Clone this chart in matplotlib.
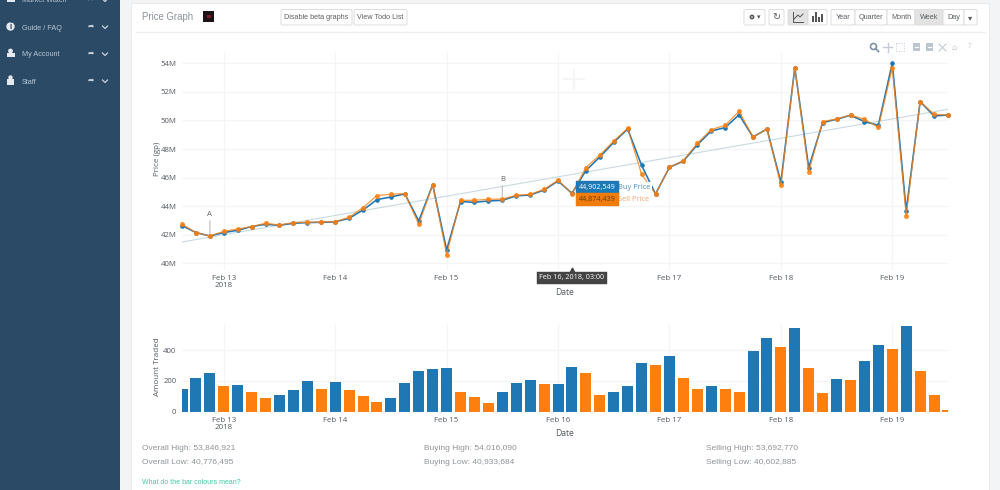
import matplotlib
matplotlib.use("Agg")
import matplotlib.pyplot as plt
from matplotlib.patches import Rectangle, FancyBboxPatch, Circle
import pandas as pd

plt.rcParams['font.family'] = ['Open Sans', 'DejaVu Sans']

# ---------- data ----------
start_time = "2018-02-12 15:00"
n_points = 56
buy_price = [42.64, 42.15, 41.91, 42.15, 42.31, 42.57, 42.73, 42.66, 42.80, 42.85, 42.87, 42.90, 43.15, 43.73,
             44.46, 44.64, 44.86, 42.96, 45.50, 40.93, 44.32, 44.27, 44.36, 44.41, 44.72, 44.78, 45.13, 45.76,
             44.90, 46.49, 47.44, 48.47, 49.40, 46.86, 44.85, 46.72, 47.15, 48.30, 49.26, 49.50, 50.40, 48.84,
             49.40, 45.67, 53.70, 46.70, 49.85, 50.08, 50.36, 49.92, 49.66, 54.02, 43.69, 51.32, 50.31, 50.38]
sell_price = [42.73, 42.15, 41.91, 42.24, 42.40, 42.57, 42.80, 42.68, 42.85, 42.87, 42.89, 42.92, 43.22, 43.90,
              44.74, 44.83, 44.88, 42.73, 45.50, 40.60, 44.41, 44.41, 44.48, 44.50, 44.76, 44.83, 45.18, 45.81,
              44.87, 46.70, 47.58, 48.56, 49.45, 46.23, 44.85, 46.72, 47.19, 48.40, 49.36, 49.66, 50.64, 48.84,
              49.40, 45.46, 53.65, 46.42, 49.92, 50.10, 50.38, 50.08, 49.52, 53.69, 43.34, 51.32, 50.43, 50.38]
trend_price = [41.49, 50.78]
volume = [148, 222, 254, 170, 174, 128, 87, 111, 139, 200, 148, 191, 139, 102, 63, 89, 189, 265, 276, 283,
          130, 93, 59, 130, 187, 209, 178, 180, 291, 250, 109, 130, 165, 315, 307, 363, 217, 146, 167, 148,
          130, 398, 483, 420, 546, 285, 122, 213, 209, 328, 437, 409, 559, 267, 111, 11]
volume_side = list("BBBOBOOBBBOBOOOBBBBBOOOBBBOBBOOBBBOBOOBOOBBOBOOBOBBOBOOO")
price_ticks = [40, 42, 44, 46, 48, 50, 52, 54]
price_labels = ["40M", "42M", "44M", "46M", "48M", "50M", "52M", "54M"]
volume_ticks = [0, 200, 400]
date_ticks = ["2018-02-13", "2018-02-14", "2018-02-15", "2018-02-16", "2018-02-17", "2018-02-18", "2018-02-19"]
date_labels = ["Feb 13\n2018", "Feb 14", "Feb 15", "Feb 16", "Feb 17", "Feb 18", "Feb 19"]
hover_index = 28
hover_buy = "44,902,549"
hover_sell = "44,874,439"
hover_date = "Feb 16, 2018, 03:00"
stats = [("Overall High: 53,846,921", "Overall Low: 40,776,495"),
         ("Buying High: 54,016,090", "Buying Low: 40,933,684"),
         ("Selling High: 53,692,770", "Selling Low: 40,602,885")]
menu_items = ["Market Watch", "Guide / FAQ", "My Account", "Staff"]
range_buttons = ["Year", "Quarter", "Month", "Week", "Day"]

BLUE, ORANGE = "#1f77b4", "#ff7f0e"
W, H = 1000, 490
times = pd.date_range(start_time, periods=n_points, freq="3h")
tick_times = pd.to_datetime(date_ticks)

fig = plt.figure(figsize=(W / 100, H / 100), dpi=100, facecolor="#f3f4f6")


def rect_axes(x0, y0, x1, y1, **kw):
    return fig.add_axes([x0 / W, 1 - y1 / H, (x1 - x0) / W, (y1 - y0) / H], **kw)


# ---------- page chrome ----------
bg = fig.add_axes([0, 0, 1, 1], zorder=0)
bg.set_xlim(0, W)
bg.set_ylim(H, 0)
bg.axis("off")
SIDE = "#2b4a66"
bg.add_patch(Rectangle((0, 0), 120, H, color=SIDE, lw=0))
bg.add_patch(Rectangle((131, 3), 858, H, facecolor="white", edgecolor="#e8e8e8", lw=0.6))
bg.plot([136, 985], [32, 32], color="#efefef", lw=1)

for name, y in zip(menu_items, [0, 27, 54, 81]):
    bg.text(22, y + 1, name, color="#b9c6d2", fontsize=5.2, va="center", ha="left", family="Liberation Sans")
    bg.text(91, y, "➦", color="#c9d3dc", fontsize=5.5, va="center", ha="center", family="DejaVu Sans")
    bg.plot([102.5, 105, 107.5], [y - 1, y + 1.5, y - 1], color="#c9d3dc", lw=0.9)
# menu icons
bg.add_patch(Circle((10.5, 26.5), 4.2, color="#e4e9ee", lw=0))
bg.text(10.5, 26.5, "i", color=SIDE, fontsize=5.5, fontweight="bold", ha="center", va="center")
bg.add_patch(Circle((10.5, 51), 2.4, color="#e4e9ee", lw=0))
bg.add_patch(Rectangle((6.5, 53.5), 8, 4, color="#e4e9ee", lw=0))
bg.add_patch(Rectangle((7, 79), 7, 6.5, color="#e4e9ee", lw=0))
bg.add_patch(Circle((10.5, 77.5), 2.2, color="#e4e9ee", lw=0))
bg.add_patch(Rectangle((7, -6), 8, 8, color="#e4e9ee", lw=0))

bg.text(142, 17.5, "Price Graph", color="#8b9299", fontsize=6.9, va="center", family="Liberation Sans")
bg.add_patch(Rectangle((203, 11), 11, 11, color="#1d1216", lw=0))
bg.add_patch(Rectangle((207, 15), 4, 3, color="#7a1f2b", lw=0))


def button(x0, x1, label, active=False, size=5.2, y0=9.5, y1=25):
    bg.add_patch(FancyBboxPatch((x0, y0), x1 - x0, y1 - y0, boxstyle="round,pad=0,rounding_size=1.5",
                                facecolor="#e3e3e3" if active else "white", edgecolor="#dcdcdc", lw=0.7))
    if label:
        bg.text((x0 + x1) / 2, (y0 + y1) / 2, label, fontsize=size, color="#5a5f63",
                ha="center", va="center", family="Liberation Sans")


button(281, 352, "Disable beta graphs")
button(354, 407, "View Todo List")
button(744, 765, "")
bg.add_patch(Circle((752, 17), 2.4, color="#555", lw=0))
bg.add_patch(Circle((752, 17), 0.8, color="white", lw=0))
bg.text(759, 17, "▾", fontsize=5, color="#555", ha="center", va="center", family="DejaVu Sans")
button(769, 784, "↻", size=7)
bg.texts[-1].set_family("DejaVu Sans")
button(788, 808, "", active=True)
bg.plot([793, 793, 803], [12, 22, 22], color="#555", lw=0.7)
bg.plot([794, 798, 800, 803], [19, 15, 17, 14], color="#555", lw=0.7)
button(808, 827, "")
for bx, bh in zip([812, 815, 818, 821], [6, 10, 5, 8]):
    bg.add_patch(Rectangle((bx, 22 - bh), 2, bh, color="#555", lw=0))
for (x0, x1), lab in zip([(831, 855), (855, 887), (887, 915), (915, 943), (943, 964)], range_buttons):
    button(x0, x1, lab, active=lab == "Week")
button(964, 977, "▾", size=6)
bg.texts[-1].set_family("DejaVu Sans")

# modebar icons
MC = "#c3ccd6"
bg.add_patch(Circle((873.5, 46.5), 3, facecolor="none", edgecolor="#7f93a8", lw=1.2))
bg.plot([875.5, 878.5], [48.5, 51.5], color="#7f93a8", lw=1.3)
bg.plot([883, 892], [47.5, 47.5], color=MC, lw=1)
bg.plot([887.5, 887.5], [43, 52], color=MC, lw=1)
bg.add_patch(Rectangle((896, 43.5), 7.5, 7.5, facecolor="none", edgecolor=MC, lw=0.7, ls=":"))
for cx in (916, 929):
    bg.add_patch(Rectangle((cx - 3.5, 43.5), 7.5, 7.5, color="#bcc6d0", lw=0))
    bg.plot([cx - 1.5, cx + 2], [47.2, 47.2], color="white", lw=0.8)
bg.plot([939, 946], [44, 51], color=MC, lw=0.8)
bg.plot([939, 946], [51, 44], color=MC, lw=0.8)
bg.text(954, 47, "⌂", fontsize=6, color=MC, ha="center", va="center", family="DejaVu Sans")
bg.text(970, 47, "?", fontsize=6, color=MC, ha="center", va="center")

# faint watermark crosshair
bg.plot([564, 584], [79, 79], color="#f6f6f6", lw=1.5)
bg.plot([573.5, 573.5], [70, 89], color="#f6f6f6", lw=1.5)

# stats text
for x, (hi, lo) in zip([142, 424, 706], stats):
    bg.text(x, 448, hi, color="#8f949a", fontsize=6.0, va="center", family="Liberation Sans")
    bg.text(x, 462, lo, color="#8f949a", fontsize=6.0, va="center", family="Liberation Sans")
bg.text(142, 482, "What do the bar colours mean?", color="#3ec9a2", fontsize=5.0, va="center",
        family="Liberation Sans")

# ---------- axes ----------
xlim = (times[0], times[-1])
ax = rect_axes(182, 53, 948, 270, zorder=2)
axv = rect_axes(182, 324, 948, 411.7, zorder=2)
for a in (ax, axv):
    a.patch.set_alpha(0)
    a.set_xlim(*xlim)
    for s in a.spines.values():
        s.set_visible(False)
    a.grid(True, color="#f5f5f5", lw=0.9)
    a.set_axisbelow(True)
    a.set_xticks(tick_times)
    a.tick_params(length=0, pad=3.5)
    a.tick_params(axis="y", labelsize=5.6, labelcolor="#555b61", pad=4)
    a.set_xlabel("Date", fontsize=6.2, color="#555b61")

# the hover box covers the Feb 16 tick label of the price axis
main_labels = ["" if lab == "Feb 16" else lab for lab in date_labels]
ax.set_xticklabels(main_labels, fontsize=5.7, color="#555b61", linespacing=1.05)
axv.set_xticklabels(date_labels, fontsize=5.7, color="#555b61", linespacing=1.05)

ax.set_ylim(39.53, 54.72)
ax.set_yticks(price_ticks)
ax.set_yticklabels(price_labels)
ax.set_ylabel("Price (gp)", fontsize=5.8, color="#555b61")
ax.xaxis.set_label_coords(0.5, -0.082)
ax.yaxis.set_label_coords(-0.028, 0.514)

ax.plot([times[0], times[-1]], trend_price, color="#c8dadf", lw=0.8, zorder=2)
ax.plot(times, buy_price, color=BLUE, lw=1.15, marker="o", ms=2.3, zorder=3, clip_on=False)
ax.plot(times, sell_price, color=ORANGE, lw=0.9, alpha=0.8, marker="o", ms=2.6, zorder=4, clip_on=False)

# annotations A and B, anchored on data
for idx, label, dy in [(2, "A", 13), (23, "B", 11.5)]:
    ax.annotate(label, xy=(times[idx], sell_price[idx]), xytext=(0, dy), textcoords="offset points",
                ha="center", va="bottom", fontsize=5.6, color="#666",
                arrowprops=dict(arrowstyle="-", color="#c4c4c4", lw=0.9, shrinkA=0, shrinkB=1.5), zorder=5)

# hover labels
t = times[hover_index]
BUY_Y, SELL_Y = 45.31, 44.47
for y, txt, tc, fc, name, nc in [(BUY_Y, hover_buy, "white", BLUE, "Buy Price", "#4f8fc0"),
                                 (SELL_Y, hover_sell, "#6b3a0a", "#f07c0c", "Sell Price", "#f2a765")]:
    ax.annotate(name, xy=(t, y), xytext=(33, 0), textcoords="offset points", fontsize=5.4,
                color=nc, va="center", ha="left", zorder=6,
                bbox=dict(boxstyle="square,pad=0.25", fc="white", ec="none"))
    ax.annotate(txt, xy=(t, y), xytext=(5, 0), textcoords="offset points", fontsize=5.2,
                color=tc, va="center", ha="left", zorder=7,
                bbox=dict(boxstyle="square,pad=0.42", fc=fc, ec=fc, lw=0.3))
ax.annotate(hover_date, xy=(t, 0), xycoords=("data", "axes fraction"), xytext=(0, -5.5),
            textcoords="offset points", fontsize=5.2, color="white", ha="center", va="center",
            annotation_clip=False, zorder=7,
            bbox=dict(boxstyle="square,pad=0.35", fc="#444444", ec="#444444", lw=0.3))
ax.plot([t], [0], marker="^", ms=3.5, color="#444444", transform=ax.get_xaxis_transform(), clip_on=False, zorder=7)

# volume bars
colors = [BLUE if s == "B" else ORANGE for s in volume_side]
axv.bar(times, volume, width=0.099, color=colors, linewidth=0, zorder=3)
axv.set_ylim(0, 571)
axv.set_yticks(volume_ticks)
axv.set_ylabel("Amount Traded", fontsize=5.8, color="#555b61")
axv.yaxis.set_label_coords(-0.028, 0.515)
axv.xaxis.set_label_coords(0.5, -0.194)
axv.axhline(0, color="#c9d4dc", lw=0.8, zorder=4)

fig.savefig("out.png", dpi=100, facecolor=fig.get_facecolor())
